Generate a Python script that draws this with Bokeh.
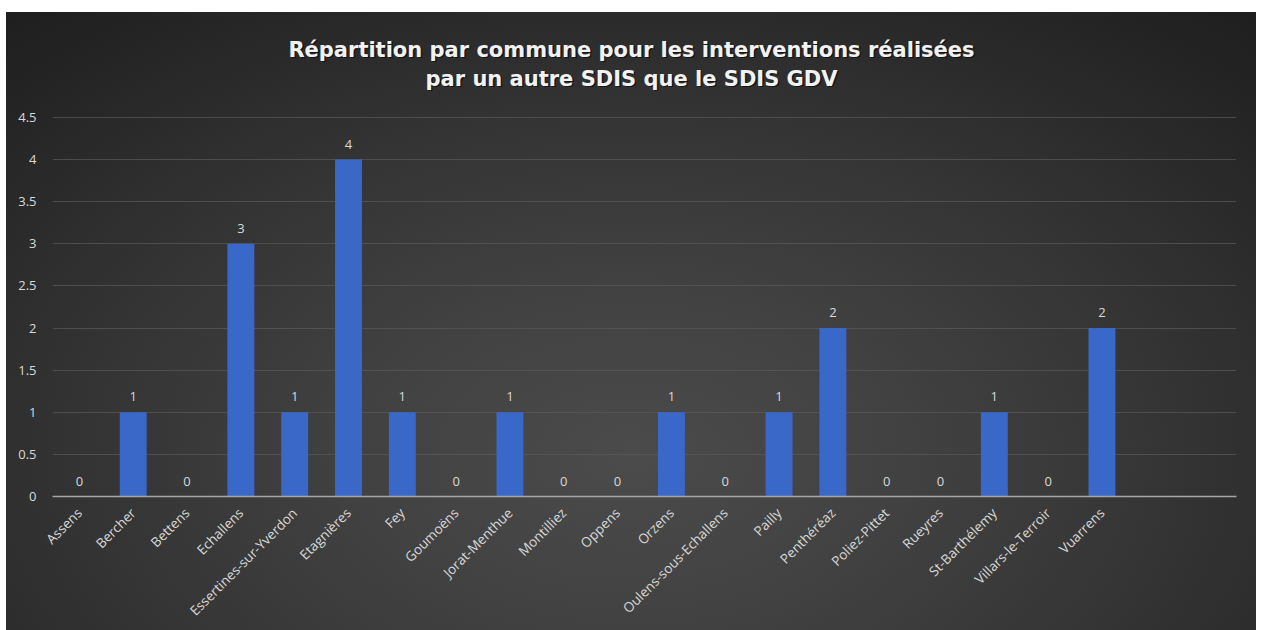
import math
from bokeh.plotting import figure
from bokeh.models import Range1d, FixedTicker, ColumnDataSource, LabelSet, Label
from bokeh.core.properties import value
from bokeh.embed import file_html
from bokeh.resources import INLINE

communes = ["Assens", "Bercher", "Bettens", "Echallens", "Essertines-sur-Yverdon",
            "Etagnières", "Fey", "Goumoëns", "Jorat-Menthue", "Montilliez", "Oppens",
            "Orzens", "Oulens-sous-Echallens", "Pailly", "Penthéréaz", "Poliez-Pittet",
            "Rueyres", "St-Barthélemy", "Villars-le-Terroir", "Vuarrens"]
interventions = [0, 1, 0, 3, 1, 4, 1, 0, 1, 0, 0, 1, 0, 1, 2, 0, 0, 1, 0, 2]
empty_slots = 2
y_ticks = [0, 0.5, 1, 1.5, 2, 2.5, 3, 3.5, 4, 4.5]
title_lines = ["Répartition par commune pour les interventions réalisées",
               "par un autre SDIS que le SDIS GDV"]

xs = list(range(len(communes)))
src = ColumnDataSource(dict(x=xs, v=interventions, lab=[str(v) for v in interventions]))

# layout (pixels)
W, H = 1250, 618
LEFT, RIGHT, BOTTOM, PLOT_TOP = 46, 20, 134, 105
frame_h = H - BOTTOM                 # frame spans whole height above x axis panel
data_h = frame_h - PLOT_TOP          # pixels used by 0 .. 4.5
frame_w = W - LEFT - RIGHT
n_slots = len(communes) + empty_slots
px_per_y = data_h / y_ticks[-1]
px_per_x = frame_w / n_slots

p = figure(width=W, height=H, output_backend="svg", toolbar_location=None,
           x_range=Range1d(-0.5, n_slots - 0.5),
           y_range=Range1d(0, frame_h / px_per_y),
           min_border_left=LEFT, min_border_right=RIGHT, min_border_top=0, min_border_bottom=BOTTOM)
p.background_fill_color = None
p.border_fill_color = None
p.outline_line_color = None
p.styles = {"margin-left": "6px", "margin-top": "12px",
            "background": "radial-gradient(ellipse 75% 95% at 50% 72%, #4b4b4b 0%, #414141 30%, #333333 60%, #262626 85%, #1f1f1f 100%)"}

p.vbar(x="x", top="v", width=0.5, source=src, fill_color="#3a68c9", line_color=None)

p.add_layout(LabelSet(x="x", y="v", text="lab", source=src, y_offset=11,
                      text_align="center", text_baseline="alphabetic",
                      text_font=value("Open Sans"), text_font_size=value("13px"),
                      text_color="#d9d9d9"))

# axes
p.yaxis.ticker = FixedTicker(ticks=y_ticks)
p.yaxis.axis_line_color = None
p.yaxis.major_tick_line_color = None
p.yaxis.minor_tick_line_color = None
p.yaxis.major_label_text_color = "#d9d9d9"
p.yaxis.major_label_text_font = "Open Sans"
p.yaxis.major_label_text_font_size = "13px"
p.yaxis.major_label_standoff = 10

p.xaxis.ticker = FixedTicker(ticks=xs)
p.xaxis.major_label_overrides = {i: c for i, c in zip(xs, communes)}
p.xaxis.major_label_orientation = math.pi / 4
p.xaxis.axis_line_color = "#a6a6a6"
p.xaxis.axis_line_width = 1.5
p.xaxis.major_tick_line_color = None
p.xaxis.minor_tick_line_color = None
p.xaxis.major_label_text_color = "#d9d9d9"
p.xaxis.major_label_text_font = "Open Sans"
p.xaxis.major_label_text_font_size = "13.5px"
p.xaxis.major_label_standoff = 8

p.xgrid.grid_line_color = None
p.ygrid.grid_line_color = "#5a5a5a"
p.ygrid.grid_line_alpha = 0.7
p.ygrid.grid_line_width = 1

# title lines with a soft shadow (baselines ~37 px and ~66 px below the chart top, centred at 625 px)
title_cx = -0.5 + (625 - LEFT) / px_per_x
for txt, base_px in zip(title_lines, [37, 66]):
    for dx, dy, col, a in [(1.5, 1.5, "#000000", 0.55), (0, 0, "#f2f2f2", 1.0)]:
        p.add_layout(Label(x=title_cx, y=(frame_h - base_px) / px_per_y, x_offset=dx, y_offset=-dy,
                           text=txt, text_align="center", text_baseline="alphabetic",
                           text_font="DejaVu Sans", text_font_style="bold",
                           text_font_size="21px", text_color=col, text_alpha=a))

open("out.html", "w").write(file_html(p, INLINE))
